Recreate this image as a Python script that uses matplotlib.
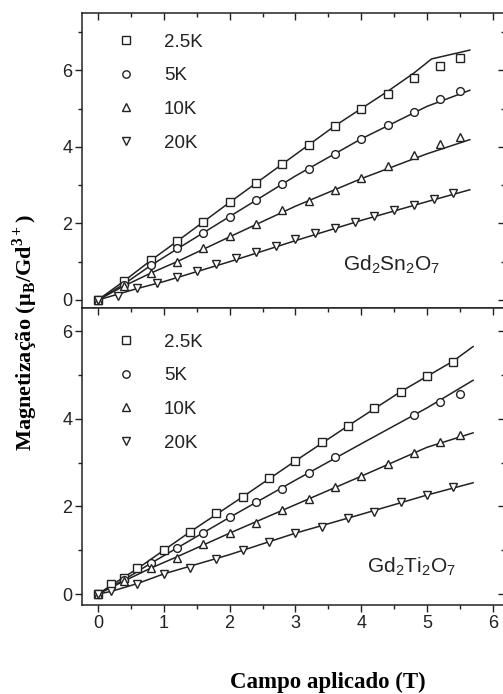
import matplotlib
matplotlib.use("Agg")
import matplotlib.pyplot as plt
from matplotlib.ticker import MultipleLocator

# ---------------- data ----------------
labels = ["2.5K", "5K", "10K", "20K"]
markers = ["s", "o", "^", "v"]

# Gd2Sn2O7 (upper panel)
sn_x_a = [0, 0.4, 0.8, 1.2, 1.6, 2.0, 2.4, 2.8, 3.2, 3.6, 4.0, 4.4, 4.8, 5.2, 5.5]
sn_25 = [0, 0.50, 1.05, 1.55, 2.05, 2.55, 3.05, 3.55, 4.04, 4.54, 5.00, 5.39, 5.79, 6.11, 6.33]
sn_5 = [0, 0.39, 0.92, 1.35, 1.75, 2.18, 2.62, 3.04, 3.42, 3.82, 4.21, 4.58, 4.90, 5.24, 5.45]
sn_10 = [0, 0.37, 0.70, 1.00, 1.35, 1.66, 1.98, 2.34, 2.59, 2.88, 3.20, 3.51, 3.80, 4.08, 4.26]
sn_x_20 = [0, 0.3, 0.6, 0.9, 1.2, 1.5, 1.8, 2.1, 2.4, 2.7, 3.0, 3.3, 3.6, 3.9, 4.2, 4.5, 4.8, 5.1, 5.4]
sn_20 = [0, 0.10, 0.31, 0.44, 0.60, 0.76, 0.93, 1.09, 1.25, 1.41, 1.59, 1.75, 1.89, 2.05, 2.20, 2.34, 2.49, 2.64, 2.79]

# fitted curves (upper)
sn_fit25_x = [0, 0.4, 0.8, 1.2, 1.6, 2.0, 2.4, 2.8, 3.2, 3.6, 4.0, 4.4, 4.8, 5.07, 5.65]
sn_fit25_y = [0, 0.50, 1.03, 1.53, 2.04, 2.55, 3.05, 3.55, 4.05, 4.55, 5.00, 5.45, 5.93, 6.30, 6.53]
sn_fit_x = [0, 0.4, 0.8, 1.2, 2.0, 3.0, 4.0, 5.0, 5.65]
sn_fit5_y = [0, 0.42, 0.90, 1.33, 2.18, 3.24, 4.21, 5.06, 5.48]
sn_fit10_y = [0, 0.37, 0.70, 1.00, 1.65, 2.45, 3.17, 3.82, 4.19]
sn_fit20_x = [0, 0.3, 0.6, 1.0, 2.0, 3.0, 4.0, 5.0, 5.65]
sn_fit20_y = [0, 0.15, 0.30, 0.48, 1.00, 1.55, 2.08, 2.57, 2.88]

# Gd2Ti2O7 (lower panel)
ti_x_25 = [0, 0.2, 0.4, 0.6, 1.0, 1.4, 1.8, 2.2, 2.6, 3.0, 3.4, 3.8, 4.2, 4.6, 5.0, 5.4]
ti_25 = [0, 0.22, 0.36, 0.59, 1.00, 1.42, 1.84, 2.22, 2.64, 3.04, 3.46, 3.84, 4.24, 4.62, 4.98, 5.29]
ti_x_5 = [0, 0.4, 0.8, 1.2, 1.6, 2.0, 2.4, 2.8, 3.2, 3.6, 4.8, 5.2, 5.5]
ti_5 = [0, 0.32, 0.70, 1.04, 1.40, 1.77, 2.11, 2.39, 2.77, 3.12, 4.08, 4.38, 4.57]
ti_x_10 = [0, 0.4, 0.8, 1.2, 1.6, 2.0, 2.4, 2.8, 3.2, 3.6, 4.0, 4.4, 4.8, 5.2, 5.5]
ti_10 = [0, 0.30, 0.59, 0.83, 1.14, 1.39, 1.63, 1.92, 2.16, 2.45, 2.69, 2.97, 3.23, 3.48, 3.63]
ti_x_20 = [0, 0.2, 0.6, 1.0, 1.4, 1.8, 2.2, 2.6, 3.0, 3.4, 3.8, 4.2, 4.6, 5.0, 5.4]
ti_20 = [0, 0.07, 0.24, 0.46, 0.60, 0.79, 1.00, 1.19, 1.39, 1.54, 1.73, 1.88, 2.09, 2.26, 2.45]

# fitted curves (lower)
ti_fit25_x = [0, 0.2, 0.6, 1.0, 1.4, 2.2, 3.0, 3.8, 4.6, 5.4, 5.7]
ti_fit25_y = [0, 0.20, 0.58, 1.00, 1.42, 2.22, 3.04, 3.84, 4.62, 5.32, 5.65]
ti_fit_x = [0, 0.4, 0.8, 1.2, 2.0, 3.0, 4.0, 5.0, 5.7]
ti_fit5_y = [0, 0.33, 0.70, 1.05, 1.75, 2.60, 3.43, 4.25, 4.88]
ti_fit10_y = [0, 0.30, 0.59, 0.85, 1.39, 2.04, 2.69, 3.35, 3.68]
ti_fit20_x = [0, 0.2, 0.6, 1.0, 2.0, 3.0, 4.0, 5.0, 5.7]
ti_fit20_y = [0, 0.06, 0.24, 0.46, 0.90, 1.39, 1.82, 2.26, 2.54]

x_ticks = [0, 1, 2, 3, 4, 5, 6]
y_ticks = [0, 2, 4, 6]

# ---------------- style ----------------
plt.rcParams["font.family"] = ["Liberation Sans", "DejaVu Sans"]
INK = "#222222"
LW = 1.1

fig = plt.figure(figsize=(5.03, 6.94), dpi=100)
W, H = 503.0, 694.0
left = 82 / W
width = (505 - 82) / W
ax1 = fig.add_axes([left, 1 - 308 / H, width, (308 - 13) / H])
ax2 = fig.add_axes([left, 1 - 605 / H, width, (605 - 308) / H], sharex=ax1)

mk = dict(markersize=5.6, markerfacecolor="white", markeredgecolor=INK,
          markeredgewidth=1.0, linestyle="none")


def style(ax, ylim):
    ax.set_xlim(-0.243, 6.185)
    ax.set_ylim(*ylim)
    ax.xaxis.set_major_locator(MultipleLocator(1))
    ax.xaxis.set_minor_locator(MultipleLocator(0.5))
    ax.yaxis.set_major_locator(MultipleLocator(2))
    ax.yaxis.set_minor_locator(MultipleLocator(1))
    for s in ax.spines.values():
        s.set_linewidth(1.1)
        s.set_color(INK)
    ax.tick_params(which="major", length=5, width=1.0, color=INK,
                   labelsize=13, labelcolor=INK, pad=2, direction="out")
    ax.tick_params(which="minor", length=3, width=1.0, color=INK, direction="out")
    # mirrored inward ticks on top and right
    sx = ax.secondary_xaxis("top")
    sx.xaxis.set_major_locator(MultipleLocator(1))
    sx.xaxis.set_minor_locator(MultipleLocator(0.5))
    sx.tick_params(which="major", direction="in", length=5, width=1.0, color=INK, labeltop=False)
    sx.tick_params(which="minor", direction="in", length=3, width=1.0, color=INK)
    sx.spines["top"].set_visible(False)
    sy = ax.secondary_yaxis("right")
    sy.yaxis.set_major_locator(MultipleLocator(2))
    sy.yaxis.set_minor_locator(MultipleLocator(1))
    sy.tick_params(which="major", direction="in", length=5, width=1.0, color=INK, labelright=False)
    sy.tick_params(which="minor", direction="in", length=3, width=1.0, color=INK)
    sy.spines["right"].set_visible(False)


# upper panel
ax1.plot(sn_fit25_x, sn_fit25_y, color=INK, lw=LW)
ax1.plot(sn_fit_x, sn_fit5_y, color=INK, lw=LW)
ax1.plot(sn_fit_x, sn_fit10_y, color=INK, lw=LW)
ax1.plot(sn_fit20_x, sn_fit20_y, color=INK, lw=LW)
ax1.plot(sn_x_a, sn_25, marker=markers[0], label=labels[0], **mk)
ax1.plot(sn_x_a, sn_5, marker=markers[1], label=labels[1], **mk)
ax1.plot(sn_x_a, sn_10, marker=markers[2], label=labels[2], **mk)
ax1.plot(sn_x_20, sn_20, marker=markers[3], label=labels[3], **mk)
style(ax1, (-0.21, 7.5))
ax1.tick_params(axis="x", labelbottom=False)
ax1.set_yticks(y_ticks)

# lower panel
ax2.plot(ti_fit25_x, ti_fit25_y, color=INK, lw=LW)
ax2.plot(ti_fit_x, ti_fit5_y, color=INK, lw=LW)
ax2.plot(ti_fit_x, ti_fit10_y, color=INK, lw=LW)
ax2.plot(ti_fit20_x, ti_fit20_y, color=INK, lw=LW)
ax2.plot(ti_x_25, ti_25, marker=markers[0], label=labels[0], **mk)
ax2.plot(ti_x_5, ti_5, marker=markers[1], label=labels[1], **mk)
ax2.plot(ti_x_10, ti_10, marker=markers[2], label=labels[2], **mk)
ax2.plot(ti_x_20, ti_20, marker=markers[3], label=labels[3], **mk)
style(ax2, (-0.25, 6.53))
ax2.set_xticks(x_ticks)
ax2.set_yticks(y_ticks)

leg_kw = dict(loc="upper left", frameon=False, fontsize=13.5, handlelength=1.0,
              handletextpad=1.5, labelspacing=0.88, borderpad=0, borderaxespad=0,
              labelcolor=INK, markerscale=0.95)
ax1.legend(bbox_to_anchor=(0.083, 0.930), **leg_kw)
ax2.legend(bbox_to_anchor=(0.083, 0.914), **leg_kw)

ax1.text(0.617, 0.146, r"Gd$_\mathregular{2}$Sn$_\mathregular{2}$O$_\mathregular{7}$",
         transform=ax1.transAxes, fontsize=15, color=INK, va="center", ha="left")
ax2.text(0.674, 0.128, r"Gd$_\mathregular{2}$Ti$_\mathregular{2}$O$_\mathregular{7}$",
         transform=ax2.transAxes, fontsize=15, color=INK, va="center", ha="left")

fig.text(25 / W, 1 - 333 / H,
         r"Magnetização (μ$_\mathregular{B}$/Gd$^\mathregular{3+}$)",
         rotation=90, ha="center", va="center", fontsize=16,
         family=["Liberation Serif", "DejaVu Serif"], weight="bold", color="black")
fig.text(328 / W, 1 - 682 / H, "Campo aplicado (T)", ha="center", va="center",
         fontsize=16.5, family=["Liberation Serif", "DejaVu Serif"], weight="bold",
         color="black")

fig.savefig("out.png", dpi=100)
